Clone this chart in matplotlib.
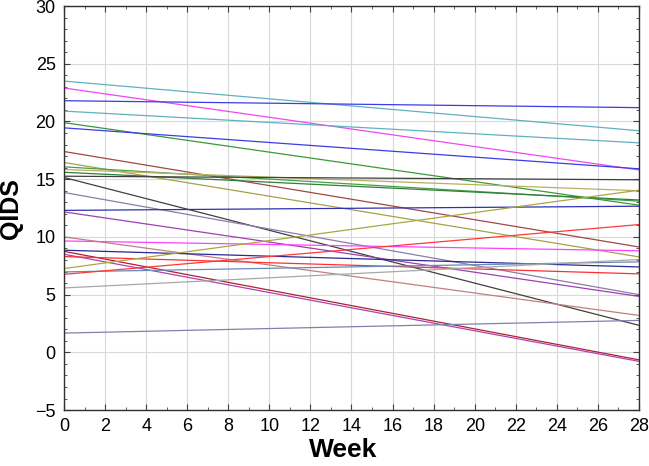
import matplotlib
matplotlib.use("Agg")
import matplotlib.pyplot as plt
import numpy as np
from matplotlib.ticker import MultipleLocator

plt.rcParams['font.family'] = ['Liberation Sans', 'DejaVu Sans']

weeks = [0, 28]
start_vals = [23.5, 22.9, 21.8, 20.9, 19.9, 19.45, 17.4, 16.45, 16.07, 15.84,
              15.6, 15.26, 15.15, 13.85, 12.3, 12.17, 10.0, 9.65, 8.85, 8.75,
              8.5, 8.3, 7.26, 6.97, 6.76, 5.58, 1.67]
end_vals = [19.2, 15.8, 21.2, 18.15, 12.75, 15.9, 9.13, 8.27, 13.1, 14.0,
            13.2, 14.95, 2.34, 5.0, 12.66, 4.85, 3.2, 8.8, 7.4, -0.65,
            -0.78, 6.8, 14.05, 7.84, 11.07, 8.04, 2.77]
colors = ['#62b0bf', '#f048f0', '#3c3ce8', '#62b0bf', '#3a9a3a', '#3c3ce8',
          '#a04848', '#a8a048', '#48a048', '#b8b060', '#2f7f3a', '#404040',
          '#404040', '#8c7ca8', '#3030b0', '#a040b0', '#c08080', '#ff40ff',
          '#2a2a90', '#b02030', '#b040b0', '#ff3030', '#a8a840', '#6a8ab8',
          '#ff3838', '#a8a8a8', '#8080b0']

fig = plt.figure(figsize=(6.49, 4.66), dpi=100)
ax = fig.add_axes([0.0986, 0.120, 0.886, 0.867])

for s, e, c in zip(start_vals, end_vals, colors):
    ax.plot(weeks, [s, e], color=c, lw=0.9)

ax.set_xlim(0, 28)
ax.set_ylim(-5, 30)
ax.xaxis.set_major_locator(MultipleLocator(2))
ax.xaxis.set_minor_locator(MultipleLocator(1))
ax.yaxis.set_major_locator(MultipleLocator(5))
ax.yaxis.set_minor_locator(MultipleLocator(1))
ax.grid(True, which='major', color='#d8d8d8', lw=0.8)
ax.set_axisbelow(True)
ax.tick_params(which='both', direction='in', top=True, right=True,
               labelsize=13, color='#404040')
ax.tick_params(axis='x', which='major', pad=6)
ax.tick_params(axis='y', which='major', pad=6)
ax.tick_params(which='major', length=4)
ax.tick_params(which='minor', length=2.5)
for sp in ax.spines.values():
    sp.set_color('#303030')
    sp.set_linewidth(1.0)

ax.set_xlabel('Week', fontsize=19, fontweight='bold', va='center')
ax.xaxis.set_label_coords(0.485, -0.099)
ax.set_ylabel('QIDS', fontsize=18, fontweight='bold', va='center')
ax.yaxis.set_label_coords(-0.092, 0.5)

fig.savefig('out.png', dpi=100)
